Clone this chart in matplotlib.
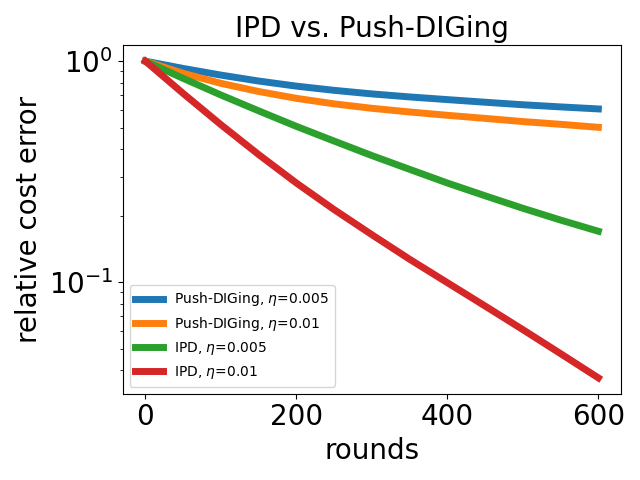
import matplotlib
matplotlib.use("Agg")
import matplotlib.pyplot as plt

rounds = [0, 50, 100, 150, 200, 250, 300, 350, 400, 450, 500, 550, 600]
push_diging_005 = [1.0, 0.927, 0.865, 0.813, 0.771, 0.738, 0.711, 0.689, 0.670, 0.652, 0.635, 0.621, 0.608]
push_diging_01 = [1.0, 0.881, 0.794, 0.729, 0.679, 0.641, 0.612, 0.589, 0.569, 0.551, 0.533, 0.518, 0.502]
ipd_005 = [1.0, 0.836, 0.703, 0.596, 0.507, 0.435, 0.374, 0.324, 0.281, 0.246, 0.216, 0.191, 0.170]
ipd_01 = [1.0, 0.7145, 0.516, 0.378, 0.281, 0.213, 0.164, 0.127, 0.0995, 0.078, 0.061, 0.0475, 0.0369]

labels = [r"Push-DIGing, $\eta$=0.005", r"Push-DIGing, $\eta$=0.01",
          r"IPD, $\eta$=0.005", r"IPD, $\eta$=0.01"]

fig, ax = plt.subplots(figsize=(6.4, 4.8), dpi=100)
for ys, lab in zip([push_diging_005, push_diging_01, ipd_005, ipd_01], labels):
    ax.plot(rounds, ys, linewidth=5, label=lab)
ax.set_yscale("log")
ax.set_title("IPD vs. Push-DIGing", fontsize=20)
ax.set_xlabel("rounds", fontsize=20)
ax.set_ylabel("relative cost error", fontsize=20)
ax.tick_params(axis="both", which="major", labelsize=20)
ax.legend(loc="lower left", fontsize=10)
fig.tight_layout()
fig.savefig("out.png", dpi=100)
